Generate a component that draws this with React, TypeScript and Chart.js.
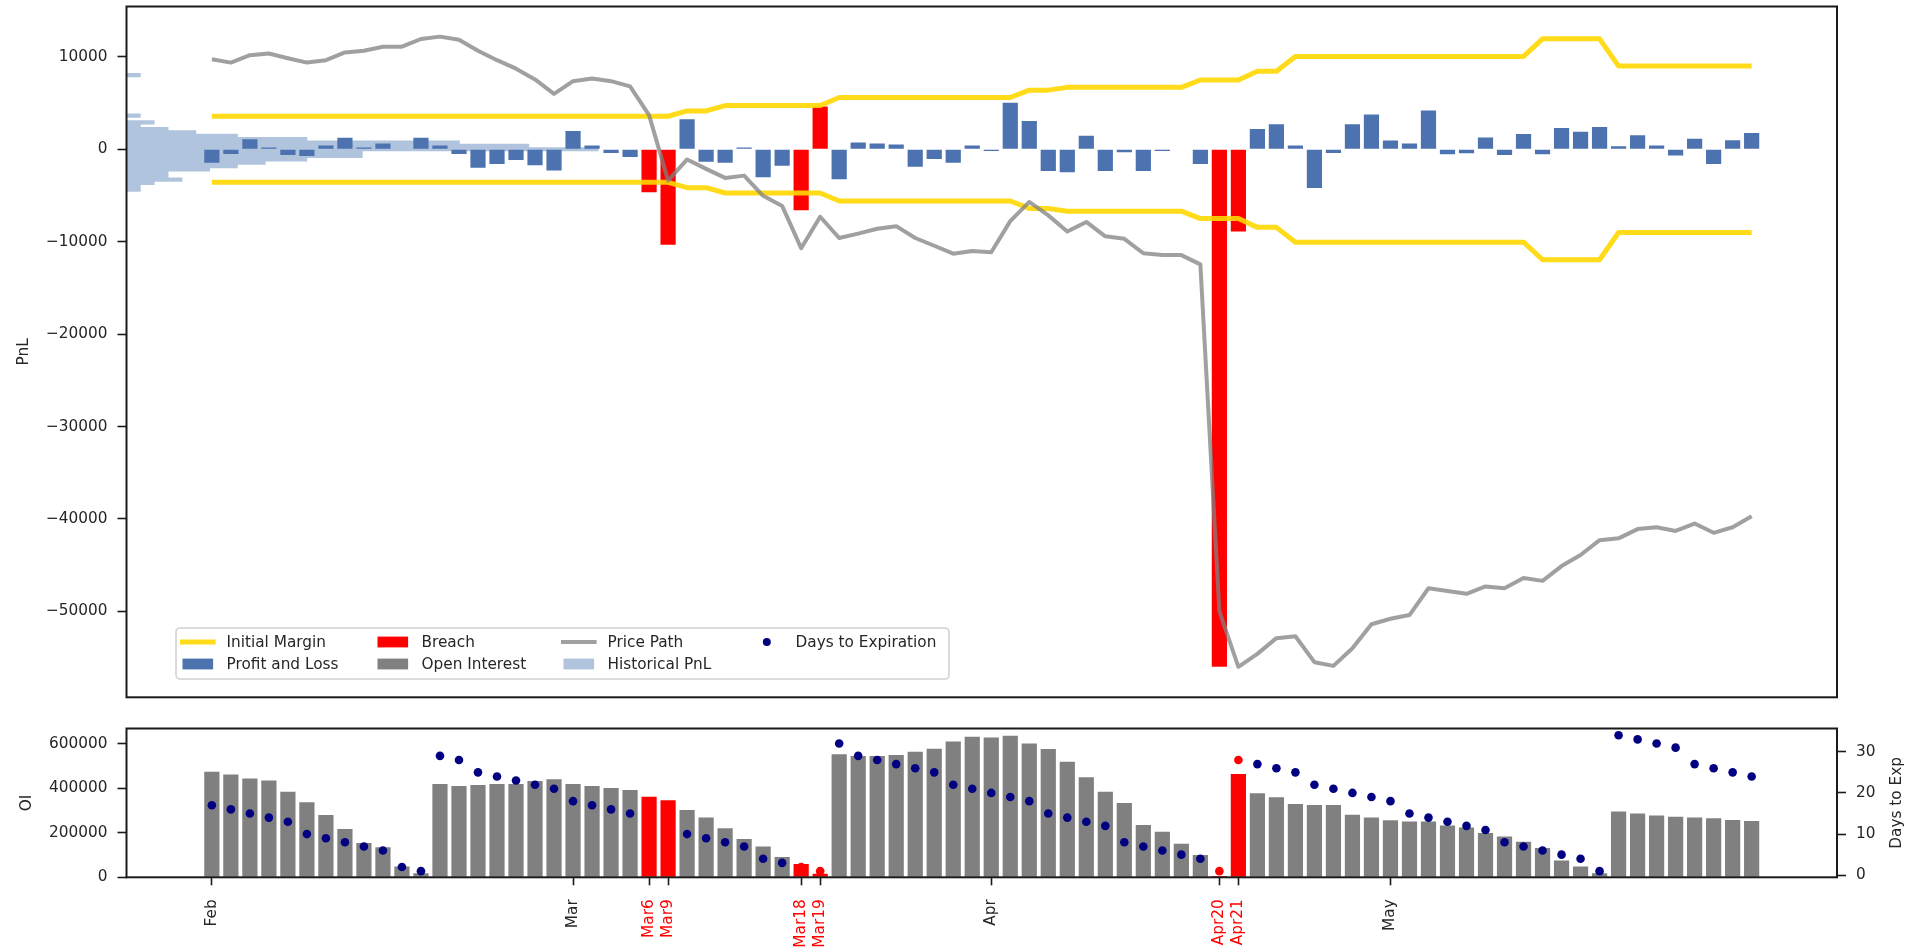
import React, { useEffect, useRef } from 'react';
import { Chart, registerables } from 'chart.js';

Chart.register(...registerables);

// ---------------- DATA ----------------
const tradingDays = [
  '2020-02-03', '2020-02-04', '2020-02-05', '2020-02-06', '2020-02-07',
  '2020-02-10', '2020-02-11', '2020-02-12', '2020-02-13', '2020-02-14',
  '2020-02-18', '2020-02-19', '2020-02-20', '2020-02-21',
  '2020-02-24', '2020-02-25', '2020-02-26', '2020-02-27', '2020-02-28',
  '2020-03-02', '2020-03-03', '2020-03-04', '2020-03-05', '2020-03-06',
  '2020-03-09', '2020-03-10', '2020-03-11', '2020-03-12', '2020-03-13',
  '2020-03-16', '2020-03-17', '2020-03-18', '2020-03-19', '2020-03-20',
  '2020-03-23', '2020-03-24', '2020-03-25', '2020-03-26', '2020-03-27',
  '2020-03-30', '2020-03-31', '2020-04-01', '2020-04-02', '2020-04-03',
  '2020-04-06', '2020-04-07', '2020-04-08', '2020-04-09',
  '2020-04-13', '2020-04-14', '2020-04-15', '2020-04-16', '2020-04-17',
  '2020-04-20', '2020-04-21', '2020-04-22', '2020-04-23', '2020-04-24',
  '2020-04-27', '2020-04-28', '2020-04-29', '2020-04-30', '2020-05-01',
  '2020-05-04', '2020-05-05', '2020-05-06', '2020-05-07', '2020-05-08',
  '2020-05-11', '2020-05-12', '2020-05-13', '2020-05-14', '2020-05-15',
  '2020-05-18', '2020-05-19', '2020-05-20', '2020-05-21', '2020-05-22',
  '2020-05-26', '2020-05-27', '2020-05-28', '2020-05-29',
];

const profitAndLoss = [
  -1460, -510, 1095, 180, -620, -730, 400, 1240, 180, 620,
  0, 1240, 400, -510, -2000, -1600, -1170, -1720, -2300, 1970,
  400, -400, -840, -4640, -10330, 3250, -1350, -1460, 180, -3030,
  -1790, -6600, 4640, -3250, 730, 620, 510, -1900, -1060, -1460,
  400, -180, 5040, 3070, -2340, -2480, 1460, -2340, -330, -2340,
  -180, 0, -1600, -56000, -8900, 2190, 2700, 400, -4200, -400,
  2700, 3760, 950, 620, 4200, -550, -440, 1280, -620, 1640,
  -550, 2300, 1900, 2400, 330, 1530, 400, -660, 1130, -1600,
  990, 1750,
];

const initialMargin = [
  3575, 3575, 3575, 3575, 3575, 3575, 3575, 3575, 3575, 3575,
  3575, 3575, 3575, 3575, 3575, 3575, 3575, 3575, 3575, 3575,
  3575, 3575, 3575, 3575, 3575, 4150, 4150, 4730, 4730, 4730,
  4730, 4730, 4730, 5600, 5600, 5600, 5600, 5600, 5600, 5600,
  5600, 5600, 5600, 6400, 6400, 6700, 6700, 6700, 6700, 6700,
  6700, 6700, 7500, 7500, 7500, 8450, 8450, 10050, 10050, 10050,
  10050, 10050, 10050, 10050, 10050, 10050, 10050, 10050, 10050, 10050,
  11950, 11950, 11950, 11950, 9000, 9000, 9000, 9000, 9000, 9000,
  9000, 9000,
];

const pricePath = [
  9745, 9380, 10180, 10370, 9855, 9380, 9640, 10475, 10660, 11100,
  11100, 11935, 12190, 11860, 10660, 9640, 8720, 7555, 5990, 7370,
  7665, 7370, 6800, 3700, -3390, -1100, -2120, -3100, -2850, -5040,
  -6130, -10700, -7300, -9600, -9125, -8600, -8320, -9600, -10440, -11300,
  -11000, -11150, -7770, -5700, -7150, -8900, -7860, -9420, -9690, -11250,
  -11450, -11450, -12450, -50000, -56000, -54600, -52900, -52700, -55500, -55900,
  -54000, -51400, -50800, -50400, -47500, -47800, -48100, -47300, -47500, -46400,
  -46700, -45100, -43900, -42300, -42100, -41100, -40900, -41300, -40500, -41500,
  -40900, -39700,
];

const openInterest = [
  474000, 462000, 444000, 435000, 384000, 337000, 280000, 217000, 154000, 135000,
  48000, 18000, 419000, 410000, 414000, 419000, 419000, 432000, 440000, 419000,
  410000, 401000, 392000, 362000, 346000, 302000, 268000, 220000, 172000, 138000,
  91000, 60000, 16000, 552000, 545000, 545000, 549000, 564000, 577000, 610000,
  631000, 628000, 636000, 601000, 576000, 519000, 449000, 384000, 334000, 235000,
  205000, 151000, 100000, 6000, 464000, 377000, 359000, 329000, 325000, 325000,
  281000, 268000, 256000, 251000, 251000, 233000, 224000, 199000, 183000, 160000,
  132000, 75000, 49000, 18000, 295000, 286000, 277000, 272000, 268000, 265000,
  257000, 253000,
];

const daysToExpiration = [
  17, 16, 15, 14, 13, 10, 9, 8, 7, 6,
  2, 1, 29, 28, 25, 24, 23, 22, 21, 18,
  17, 16, 15, 14, 11, 10, 9, 8, 7, 4,
  3, 2, 1, 32, 29, 28, 27, 26, 25, 22,
  21, 20, 19, 18, 15, 14, 13, 12, 8, 7,
  6, 5, 4, 1, 28, 27, 26, 25, 22, 21,
  20, 19, 18, 15, 14, 13, 12, 11, 8, 7,
  6, 5, 4, 1, 34, 33, 32, 31, 27, 26,
  25, 24,
];

const breachDays = ['2020-03-06', '2020-03-09', '2020-03-18', '2020-03-19', '2020-04-20', '2020-04-21'];

const tickDays = ['2020-02-03', '2020-03-02', '2020-03-06', '2020-03-09', '2020-03-18', '2020-03-19', '2020-04-01', '2020-04-20', '2020-04-21', '2020-05-01'];
const tickLabels = ['Feb', 'Mar', 'Mar6', 'Mar9', 'Mar18', 'Mar19', 'Apr', 'Apr20', 'Apr21', 'May'];

// Historical PnL histogram (bin centres in PnL units, counts)
const histBinCenters = [
  -4380, -4015, -3650, -3285, -2920, -2555, -2190, -1825, -1460, -1095,
  -730, -365, 0, 365, 730, 1095, 1460, 1825, 2190, 2555,
  2920, 3285, 3650, 4015, 4380, 4745, 5110, 5475, 5840, 6205,
  6570, 6935, 7300, 7665, 8030,
];
const histCounts = [
  1, 1, 2, 4, 3, 3, 6, 8, 10, 13,
  17, 17, 34, 29, 24, 13, 8, 5, 3, 1,
  2, 0, 1, 0, 0, 0, 0, 0, 0, 0,
  0, 0, 0, 0, 1,
];

const pnlTicks = [-50000, -40000, -30000, -20000, -10000, 0, 10000];
const oiTicks = [0, 200000, 400000, 600000];
const dteTicks = [0, 10, 20, 30];

// ---------------- STYLE ----------------
const FONT = "'DejaVu Sans', 'Liberation Sans', sans-serif";
const FS = 15.3;
const TEXT = '#262626';
const PNL_COLOR = '#4C72B0';
const BREACH_COLOR = '#FF0000';
const OI_COLOR = '#808080';
const HIST_COLOR = '#B0C4DE';
const IM_COLOR = 'rgba(255, 215, 0, 0.9)';
const PRICE_COLOR = 'rgba(128, 128, 128, 0.75)';
const DTE_COLOR = '#000080';

const X_MIN = -4.49;
const X_MAX = 85.49;
const PNL_MIN = -59300;
const PNL_MAX = 15450;
const HIST_MAX = 123.3; // counts spanning the full x range
const OI_MAX = 668000;
const DTE_MIN = -0.5;
const DTE_MAX = 35.65;

const W = 1907;
const TOP_H = 712;
const BOT_H = 240;

const fmt = (v: number) => (v < 0 ? '\u2212' + Math.abs(v) : String(v));

const frame = {
  id: 'frame',
  afterDatasetsDraw(chart: any) {
    const { ctx, chartArea: a } = chart;
    ctx.save();
    ctx.strokeStyle = '#1a1a1a';
    ctx.lineWidth = 2;
    ctx.strokeRect(a.left, a.top, a.right - a.left, a.bottom - a.top);
    ctx.restore();
  },
};

function vText(ctx: CanvasRenderingContext2D, text: string, x: number, y: number) {
  ctx.save();
  ctx.translate(x, y);
  ctx.rotate(-Math.PI / 2);
  ctx.textAlign = 'center';
  ctx.textBaseline = 'middle';
  ctx.fillText(text, 0, 0);
  ctx.restore();
}

const legendItems = [
  { label: 'Initial Margin', kind: 'line', color: IM_COLOR, lw: 5, col: 0, row: 0 },
  { label: 'Profit and Loss', kind: 'rect', color: PNL_COLOR, lw: 0, col: 0, row: 1 },
  { label: 'Breach', kind: 'rect', color: BREACH_COLOR, lw: 0, col: 1, row: 0 },
  { label: 'Open Interest', kind: 'rect', color: OI_COLOR, lw: 0, col: 1, row: 1 },
  { label: 'Price Path', kind: 'line', color: PRICE_COLOR, lw: 4, col: 2, row: 0 },
  { label: 'Historical PnL', kind: 'rect', color: HIST_COLOR, lw: 0, col: 2, row: 1 },
  { label: 'Days to Expiration', kind: 'dot', color: DTE_COLOR, lw: 0, col: 3, row: 0 },
];

const topDecor = {
  id: 'topDecor',
  afterDraw(chart: any) {
    const { ctx, chartArea: a } = chart;
    ctx.save();
    ctx.fillStyle = TEXT;
    ctx.font = `${FS}px ${FONT}`;
    vText(ctx, 'PnL', 24, (a.top + a.bottom) / 2);

    // legend
    const bx = 176, by = 628, bw = 773, bh = 51, r = 4;
    ctx.beginPath();
    ctx.moveTo(bx + r, by);
    ctx.arcTo(bx + bw, by, bx + bw, by + bh, r);
    ctx.arcTo(bx + bw, by + bh, bx, by + bh, r);
    ctx.arcTo(bx, by + bh, bx, by, r);
    ctx.arcTo(bx, by, bx + bw, by, r);
    ctx.closePath();
    ctx.fillStyle = 'rgba(255,255,255,0.85)';
    ctx.fill();
    ctx.strokeStyle = 'rgba(204,204,204,0.9)';
    ctx.lineWidth = 1.6;
    ctx.stroke();

    const colX = [182.5, 377.5, 563.5, 751.5];
    const rowY = [642, 664];
    const hw = 30.6;
    legendItems.forEach((it) => {
      const x0 = colX[it.col];
      const y = rowY[it.row];
      if (it.kind === 'line') {
        ctx.strokeStyle = it.color;
        ctx.lineWidth = it.lw;
        ctx.lineCap = 'butt';
        ctx.beginPath();
        ctx.moveTo(x0 - 2.5, y);
        ctx.lineTo(x0 + hw + 2.5, y);
        ctx.stroke();
      } else if (it.kind === 'rect') {
        ctx.fillStyle = it.color;
        ctx.fillRect(x0, y - 5.4, hw, 10.8);
      } else {
        ctx.fillStyle = it.color;
        ctx.beginPath();
        ctx.arc(x0 + hw / 2, y, 4, 0, Math.PI * 2);
        ctx.fill();
      }
      ctx.fillStyle = TEXT;
      ctx.textAlign = 'left';
      ctx.textBaseline = 'middle';
      ctx.fillText(it.label, x0 + 44, y + 1);
    });
    ctx.restore();
  },
};

const bottomDecor = {
  id: 'bottomDecor',
  afterDraw(chart: any) {
    const { ctx, chartArea: a } = chart;
    ctx.save();
    ctx.fillStyle = TEXT;
    ctx.font = `${FS}px ${FONT}`;
    vText(ctx, 'OI', 27, (a.top + a.bottom) / 2);
    vText(ctx, 'Days to Exp', 1897, (a.top + a.bottom) / 2);
    ctx.restore();
  },
};

const tickGrid = {
  display: true,
  drawOnChartArea: false,
  drawTicks: true,
  tickLength: 9,
  tickWidth: 1.6,
  tickColor: '#1a1a1a',
};

const fitWidth = (w: number) => (s: any) => {
  s.width = w;
  s.paddingTop = 0;
  s.paddingBottom = 0;
};

export default function App() {
  const topRef = useRef<HTMLCanvasElement>(null);
  const botRef = useRef<HTMLCanvasElement>(null);

  useEffect(() => {
    Chart.defaults.font.family = FONT;
    Chart.defaults.font.size = FS;
    Chart.defaults.color = TEXT;

    const isBreach = tradingDays.map((d) => breachDays.includes(d));
    const tickIdx = tickDays.map((d) => tradingDays.indexOf(d));
    const breachIdx = breachDays.map((d) => tradingDays.indexOf(d));

    const top = new Chart(topRef.current as HTMLCanvasElement, {
      type: 'bar',
      data: {
        datasets: [
          {
            type: 'line',
            label: 'Price Path',
            data: pricePath.map((v, i) => ({ x: i, y: v })),
            borderColor: PRICE_COLOR,
            borderWidth: 4,
            pointRadius: 0,
            tension: 0,
            borderJoinStyle: 'round',
            order: 0,
            xAxisID: 'x',
            yAxisID: 'y',
          } as any,
          {
            type: 'line',
            label: 'Initial Margin',
            data: initialMargin.map((v, i) => ({ x: i, y: v })),
            borderColor: IM_COLOR,
            borderWidth: 5,
            pointRadius: 0,
            tension: 0,
            borderJoinStyle: 'round',
            order: 1,
            xAxisID: 'x',
            yAxisID: 'y',
          } as any,
          {
            type: 'line',
            label: 'Initial Margin (lower)',
            data: initialMargin.map((v, i) => ({ x: i, y: -v })),
            borderColor: IM_COLOR,
            borderWidth: 5,
            pointRadius: 0,
            tension: 0,
            borderJoinStyle: 'round',
            order: 1,
            xAxisID: 'x',
            yAxisID: 'y',
          } as any,
          {
            type: 'bar',
            label: 'Profit and Loss',
            data: profitAndLoss.map((v, i) => ({ x: i, y: v })),
            backgroundColor: isBreach.map((b) => (b ? BREACH_COLOR : PNL_COLOR)),
            grouped: false,
            barPercentage: 0.8,
            categoryPercentage: 1,
            order: 2,
            xAxisID: 'x',
            yAxisID: 'y',
          } as any,
          {
            type: 'bar',
            label: 'Historical PnL',
            indexAxis: 'y',
            data: histBinCenters.map((c, k) => ({ x: histCounts[k], y: c })),
            backgroundColor: HIST_COLOR,
            grouped: false,
            barThickness: 3.5,
            order: 3,
            xAxisID: 'xh',
            yAxisID: 'yh',
          } as any,
        ],
      },
      options: {
        responsive: false,
        animation: false,
        devicePixelRatio: 1,
        layout: { padding: { left: 0, right: 70, top: 6.5, bottom: 14.7 } },
        plugins: { legend: { display: false }, tooltip: { enabled: false } },
        scales: {
          x: {
            type: 'linear',
            min: X_MIN,
            max: X_MAX,
            display: false,
            offset: false,
            afterBuildTicks: (s: any) => {
              s.ticks = tickIdx.map((v) => ({ value: v }));
            },
          },
          y: {
            type: 'linear',
            position: 'left',
            min: PNL_MIN,
            max: PNL_MAX,
            afterFit: fitWidth(126.5),
            afterBuildTicks: (s: any) => {
              s.ticks = pnlTicks.map((v) => ({ value: v }));
            },
            ticks: { callback: (v: any) => fmt(Number(v)), padding: 10, color: TEXT, font: { size: FS } },
            grid: tickGrid,
            border: { display: false },
          },
          xh: { type: 'linear', axis: 'x', min: 0, max: HIST_MAX, display: false, offset: false },
          yh: { type: 'linear', axis: 'y', min: PNL_MIN, max: PNL_MAX, display: false, offset: false },
        } as any,
      },
      plugins: [frame, topDecor],
    });

    const bottom = new Chart(botRef.current as HTMLCanvasElement, {
      type: 'bar',
      data: {
        datasets: [
          {
            type: 'line',
            label: 'Days to Expiration',
            data: daysToExpiration.map((v, i) => ({ x: i, y: v })),
            showLine: false,
            pointRadius: 4.3,
            pointBorderWidth: 0,
            pointBackgroundColor: isBreach.map((b) => (b ? BREACH_COLOR : DTE_COLOR)),
            pointBorderColor: isBreach.map((b) => (b ? BREACH_COLOR : DTE_COLOR)),
            order: 0,
            xAxisID: 'x',
            yAxisID: 'y2',
          } as any,
          {
            type: 'bar',
            label: 'Open Interest',
            data: openInterest.map((v, i) => ({ x: i, y: v })),
            backgroundColor: isBreach.map((b) => (b ? BREACH_COLOR : OI_COLOR)),
            grouped: false,
            barPercentage: 0.8,
            categoryPercentage: 1,
            order: 1,
            xAxisID: 'x',
            yAxisID: 'y',
          } as any,
        ],
      },
      options: {
        responsive: false,
        animation: false,
        devicePixelRatio: 1,
        layout: { padding: { left: 0, right: 0, top: 16.5, bottom: 0 } },
        plugins: { legend: { display: false }, tooltip: { enabled: false } },
        scales: {
          x: {
            type: 'linear',
            position: 'bottom',
            min: X_MIN,
            max: X_MAX,
            offset: false,
            afterFit: (s: any) => {
              s.height = 74.7;
              s.paddingLeft = 0;
              s.paddingRight = 0;
            },
            afterBuildTicks: (s: any) => {
              s.ticks = tickIdx.map((v) => ({ value: v }));
            },
            ticks: {
              autoSkip: false,
              minRotation: 90,
              maxRotation: 90,
              padding: 14,
              font: { size: FS },
              callback: (v: any) => tickLabels[tickIdx.indexOf(Number(v))] ?? '',
              color: (c: any) => (breachIdx.includes(c.tick?.value) ? BREACH_COLOR : TEXT),
            },
            grid: { ...tickGrid, offset: false, tickLength: 8 },
            border: { display: false },
          },
          y: {
            type: 'linear',
            position: 'left',
            min: 0,
            max: OI_MAX,
            afterFit: fitWidth(126.5),
            afterBuildTicks: (s: any) => {
              s.ticks = oiTicks.map((v) => ({ value: v }));
            },
            ticks: { callback: (v: any) => fmt(Number(v)), padding: 10, color: TEXT, font: { size: FS } },
            grid: tickGrid,
            border: { display: false },
          },
          y2: {
            type: 'linear',
            axis: 'y',
            position: 'right',
            min: DTE_MIN,
            max: DTE_MAX,
            afterFit: fitWidth(70),
            afterBuildTicks: (s: any) => {
              s.ticks = dteTicks.map((v) => ({ value: v }));
            },
            ticks: { callback: (v: any) => fmt(Number(v)), padding: 10, color: TEXT, font: { size: FS } },
            grid: tickGrid,
            border: { display: false },
          },
        } as any,
      },
      plugins: [frame, bottomDecor],
    });

    return () => {
      top.destroy();
      bottom.destroy();
    };
  }, []);

  return (
    <div style={{ position: 'absolute', left: 0, top: 0, width: W, height: TOP_H + BOT_H, background: '#fff' }}>
      <canvas
        ref={topRef}
        width={W}
        height={TOP_H}
        style={{ position: 'absolute', left: 0, top: 0, width: W, height: TOP_H }}
      />
      <canvas
        ref={botRef}
        width={W}
        height={BOT_H}
        style={{ position: 'absolute', left: 0, top: TOP_H, width: W, height: BOT_H }}
      />
    </div>
  );
}
